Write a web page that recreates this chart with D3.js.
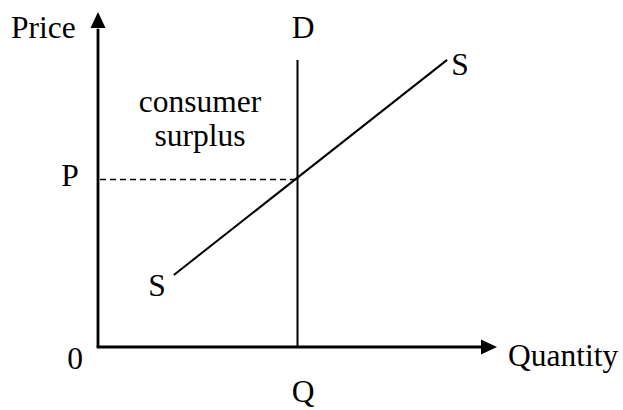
<!DOCTYPE html>
<html>
<head>
<meta charset="utf-8">
<script src="https://cdn.jsdelivr.net/npm/d3@7"></script>
<style>
  html, body { margin: 0; padding: 0; background: #fff; }
  svg text { font-family: "Liberation Serif", "Times New Roman", serif; fill: #000; }
</style>
</head>
<body>
<svg id="chart" width="623" height="410"></svg>
<script>
// ---- data ----
const axisLabels = ["Price", "Quantity"];
const originLabel = "0";
const equilibrium = { q: 50, p: 50 };          // Q, P
const eqLabels = { q: "Q", p: "P" };
const supplyCurve = [ { q: 19, p: 21.5 }, { q: 87.5, p: 85.7 } ];
const supplyLabel = "S";
const demandCurve = [ { q: 50, p: 0 }, { q: 50, p: 85.7 } ];
const demandLabel = "D";
const areaLabel = ["consumer", "surplus"];

// ---- layout ----
const svg = d3.select("#chart");
const x = d3.scaleLinear().domain([0, 100]).range([98, 497]);
const y = d3.scaleLinear().domain([0, 100]).range([347, 12]);
const fs = 31.5;

// axes lines
svg.append("line").attr("x1", x(0)).attr("y1", y(0)).attr("x2", x(0)).attr("y2", y(95))
  .attr("stroke", "#000").attr("stroke-width", 2.8);
svg.append("line").attr("x1", x(0) - 1.4).attr("y1", y(0)).attr("x2", x(96)).attr("y2", y(0))
  .attr("stroke", "#000").attr("stroke-width", 2.8);
// arrow heads
svg.append("path")
  .attr("d", `M${x(0)},${y(100)} L${x(0) - 7.5},${y(100) + 16} L${x(0) + 7.5},${y(100) + 16} Z`)
  .attr("fill", "#000");
svg.append("path")
  .attr("d", `M${x(100)},${y(0)} L${x(100) - 16},${y(0) - 7.5} L${x(100) - 16},${y(0) + 7.5} Z`)
  .attr("fill", "#000");

const line = d3.line().x(d => x(d.q)).y(d => y(d.p));

// demand (vertical)
svg.append("path").attr("d", line(demandCurve)).attr("fill", "none")
  .attr("stroke", "#000").attr("stroke-width", 2);
// supply
svg.append("path").attr("d", line(supplyCurve)).attr("fill", "none")
  .attr("stroke", "#000").attr("stroke-width", 2);
// dashed price line
svg.append("line").attr("x1", x(0) + 2).attr("y1", y(equilibrium.p))
  .attr("x2", x(equilibrium.q)).attr("y2", y(equilibrium.p))
  .attr("stroke", "#000").attr("stroke-width", 1.6).attr("stroke-dasharray", "6,4");

// text
function label(t, xx, yy, anchor) {
  svg.append("text").attr("x", xx).attr("y", yy).attr("text-anchor", anchor || "start")
    .attr("font-size", fs).text(t);
}
label(axisLabels[0], 11, 38);
label(axisLabels[1], 508, 366);
label(originLabel, 75, 369, "middle");
label(eqLabels.p, 70, 186, "middle");
label(eqLabels.q, 303, 402, "middle");
label(demandLabel, 303, 38, "middle");
label(supplyLabel, 460, 75, "middle");
label(supplyLabel, 157, 296, "middle");
label(areaLabel[0], 200, 112, "middle");
label(areaLabel[1], 200, 146, "middle");
</script>
</body>
</html>
